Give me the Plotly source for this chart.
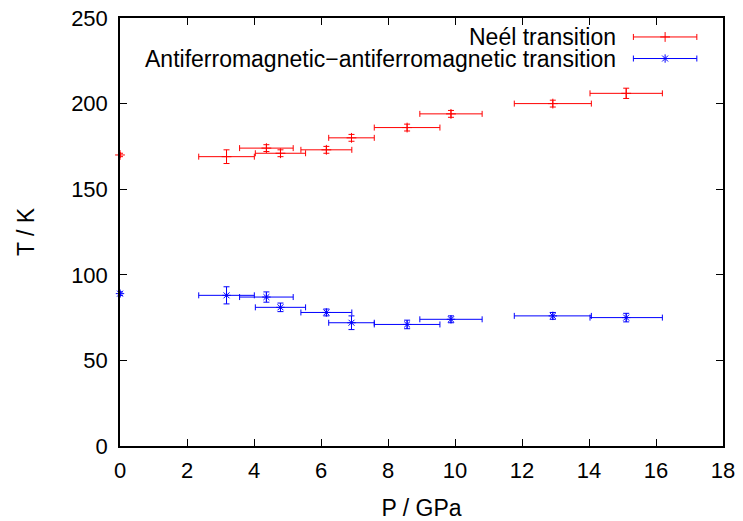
import plotly.graph_objects as go

# Data
pressure = [0.0, 3.18, 4.37, 4.79, 6.16, 6.91, 8.57, 9.88, 12.92, 15.11]
pressure_err = [0.0, 0.83, 0.80, 0.75, 0.76, 0.68, 0.98, 0.93, 1.15, 1.08]
t_neel = [170, 169, 174, 171, 173, 180, 186, 194, 200, 206]
t_neel_err = [1, 4, 2, 2, 2, 2, 2, 2, 2, 3]
t_afm = [89, 88, 87, 81, 78, 72, 71, 74, 76, 75]
t_afm_err = [1, 5, 3, 2.5, 2, 4, 2.5, 2, 2, 2.5]

x_ticks = list(range(0, 19, 2))
y_ticks = list(range(0, 251, 50))

names = ["Neél transition", "Antiferromagnetic\u2212antiferromagnetic transition"]
colors = ["#ff0000", "#0000ff"]
symbols = ["cross-thin", "asterisk"]

FONT = "Liberation Sans, Arial, Helvetica, sans-serif"
FS_TICK = 22
FS = 23

fig = go.Figure()

for temps, errs, name, col, sym in [
    (t_neel, t_neel_err, names[0], colors[0], symbols[0]),
    (t_afm, t_afm_err, names[1], colors[1], symbols[1]),
]:
    fig.add_trace(go.Scatter(
        x=pressure, y=temps, mode="markers", name=name,
        marker=dict(symbol=sym, size=7, color=col, line=dict(color=col, width=1)),
        error_x=dict(type="data", array=pressure_err, visible=True, color=col, thickness=1, width=3),
        error_y=dict(type="data", array=errs, visible=True, color=col, thickness=1, width=3),
        cliponaxis=False, showlegend=False,
    ))

# Legend samples (gnuplot-style: text on the left, sample on the right)
legend_y = [0.9557, 0.9053]
for i in range(2):
    fig.add_trace(go.Scatter(
        x=[0.904], y=[legend_y[i]], mode="markers", xaxis="x2", yaxis="y2",
        marker=dict(symbol=symbols[i], size=7, color=colors[i], line=dict(color=colors[i], width=1)),
        error_x=dict(type="constant", value=0.0526, visible=True, color=colors[i], thickness=1, width=3),
        showlegend=False, hoverinfo="skip", cliponaxis=False,
    ))
    fig.add_annotation(
        x=0.8257, y=legend_y[i], xref="paper", yref="paper",
        text=names[i], showarrow=False, xanchor="right", yanchor="middle",
        font=dict(family=FONT, size=FS, color="black"),
    )

axis_common = dict(
    showline=True, linecolor="black", linewidth=1.5, mirror="ticks",
    ticks="inside", ticklen=7, tickcolor="black", tickwidth=1,
    showgrid=False, zeroline=False, automargin=False,
    tickfont=dict(family=FONT, size=FS_TICK, color="black"),
)

fig.update_layout(
    width=743, height=521,
    margin=dict(l=120, r=20, t=18, b=75),
    paper_bgcolor="white", plot_bgcolor="white",
    font=dict(family=FONT, size=FS, color="black"),
    xaxis=dict(range=[0, 18], tickvals=x_ticks, ticktext=[str(v) for v in x_ticks],
               ticklabelstandoff=4,
               title=dict(text="P / GPa", font=dict(family=FONT, size=FS), standoff=18),
               **axis_common),
    yaxis=dict(range=[0, 250], tickvals=y_ticks, ticktext=[str(v) for v in y_ticks],
               ticklabelstandoff=6,
               title=dict(text="T / K", font=dict(family=FONT, size=FS), standoff=30),
               **axis_common),
    xaxis2=dict(range=[0, 1], overlaying="x", visible=False, fixedrange=True),
    yaxis2=dict(range=[0, 1], overlaying="y", visible=False, fixedrange=True),
    showlegend=False,
)

fig.write_html("out.html")
